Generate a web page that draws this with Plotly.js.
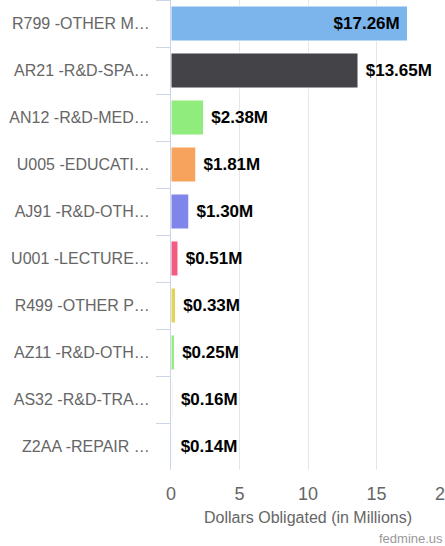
<!DOCTYPE html>
<html>
<head>
<meta charset="utf-8">
<script src="https://cdn.plot.ly/plotly-3.0.1.min.js"></script>
<style>html,body{margin:0;padding:0;background:#fff;}#chart{width:445px;height:546px;}</style>
</head>
<body>
<div id="chart"></div>
<script>
const categories = [
  "R799 -OTHER M\u2026",
  "AR21 -R&D-SPA\u2026",
  "AN12 -R&D-MED\u2026",
  "U005 -EDUCATI\u2026",
  "AJ91 -R&D-OTH\u2026",
  "U001 -LECTURE\u2026",
  "R499 -OTHER P\u2026",
  "AZ11 -R&D-OTH\u2026",
  "AS32 -R&D-TRA\u2026",
  "Z2AA -REPAIR \u2026"
];
const values = [17.26, 13.65, 2.38, 1.81, 1.30, 0.51, 0.33, 0.25, 0.16, 0.14];
const barColors = ["#7cb5ec", "#434348", "#90ed7d", "#f7a35c", "#8085e9", "#f15c80", "#e4d354", "#90ed7d", "#fdf0f0", "#f4fbfb"];
const xTicks = [0, 5, 10, 15, 20];

const labels = values.map((v, i) => (i === 0 ? "$" + v.toFixed(2) + "M\u00a0" : "\u00a0$" + v.toFixed(2) + "M"));
const positions = values.map((v, i) => (i === 0 ? "inside" : "outside"));

const trace = {
  type: "bar",
  orientation: "h",
  y: categories,
  x: values,
  marker: {color: barColors, line: {color: "#ffffff", width: 1}},
  text: labels,
  textposition: positions,
  insidetextanchor: "end",
  constraintext: "none",
  cliponaxis: false,
  textfont: {family: "Liberation Sans, Arial, sans-serif", size: 17, color: "#000000", weight: "bold"},
  hoverinfo: "none"
};

const layout = {
  width: 445,
  height: 546,
  margin: {l: 171, r: 0, t: 0, b: 76},
  paper_bgcolor: "#ffffff",
  plot_bgcolor: "#ffffff",
  bargap: 0.255,
  showlegend: false,
  font: {family: "Liberation Sans, Arial, sans-serif", color: "#666666"},
  xaxis: {
    range: [0, 20],
    tickvals: xTicks,
    ticktext: xTicks.map(String),
    showgrid: true,
    gridcolor: "#e6e6e6",
    zeroline: false,
    showline: false,
    ticks: "",
    ticklabelstandoff: 11,
    ticklabeloverflow: "allow",
    tickfont: {size: 18, color: "#666666"},
    title: {text: "Dollars Obligated (in Millions)", font: {size: 16, color: "#666666"}, standoff: 8}
  },
  yaxis: {
    type: "category",
    autorange: "reversed",
    showgrid: false,
    showline: true,
    linecolor: "#ccd6eb",
    linewidth: 1,
    ticks: "outside",
    tickson: "boundaries",
    ticklen: 14,
    tickcolor: "#ccd6eb",
    ticklabelstandoff: 17,
    tickfont: {size: 16, color: "#666666"}
  },
  annotations: [{
    text: "fedmine.us",
    xref: "paper", yref: "paper",
    x: 1, y: 0, xanchor: "right", yanchor: "top",
    yshift: -59,
    showarrow: false,
    font: {size: 13, color: "#999999"}
  }]
};

Plotly.newPlot("chart", [trace], layout, {displayModeBar: false, staticPlot: true});
</script>
</body>
</html>
